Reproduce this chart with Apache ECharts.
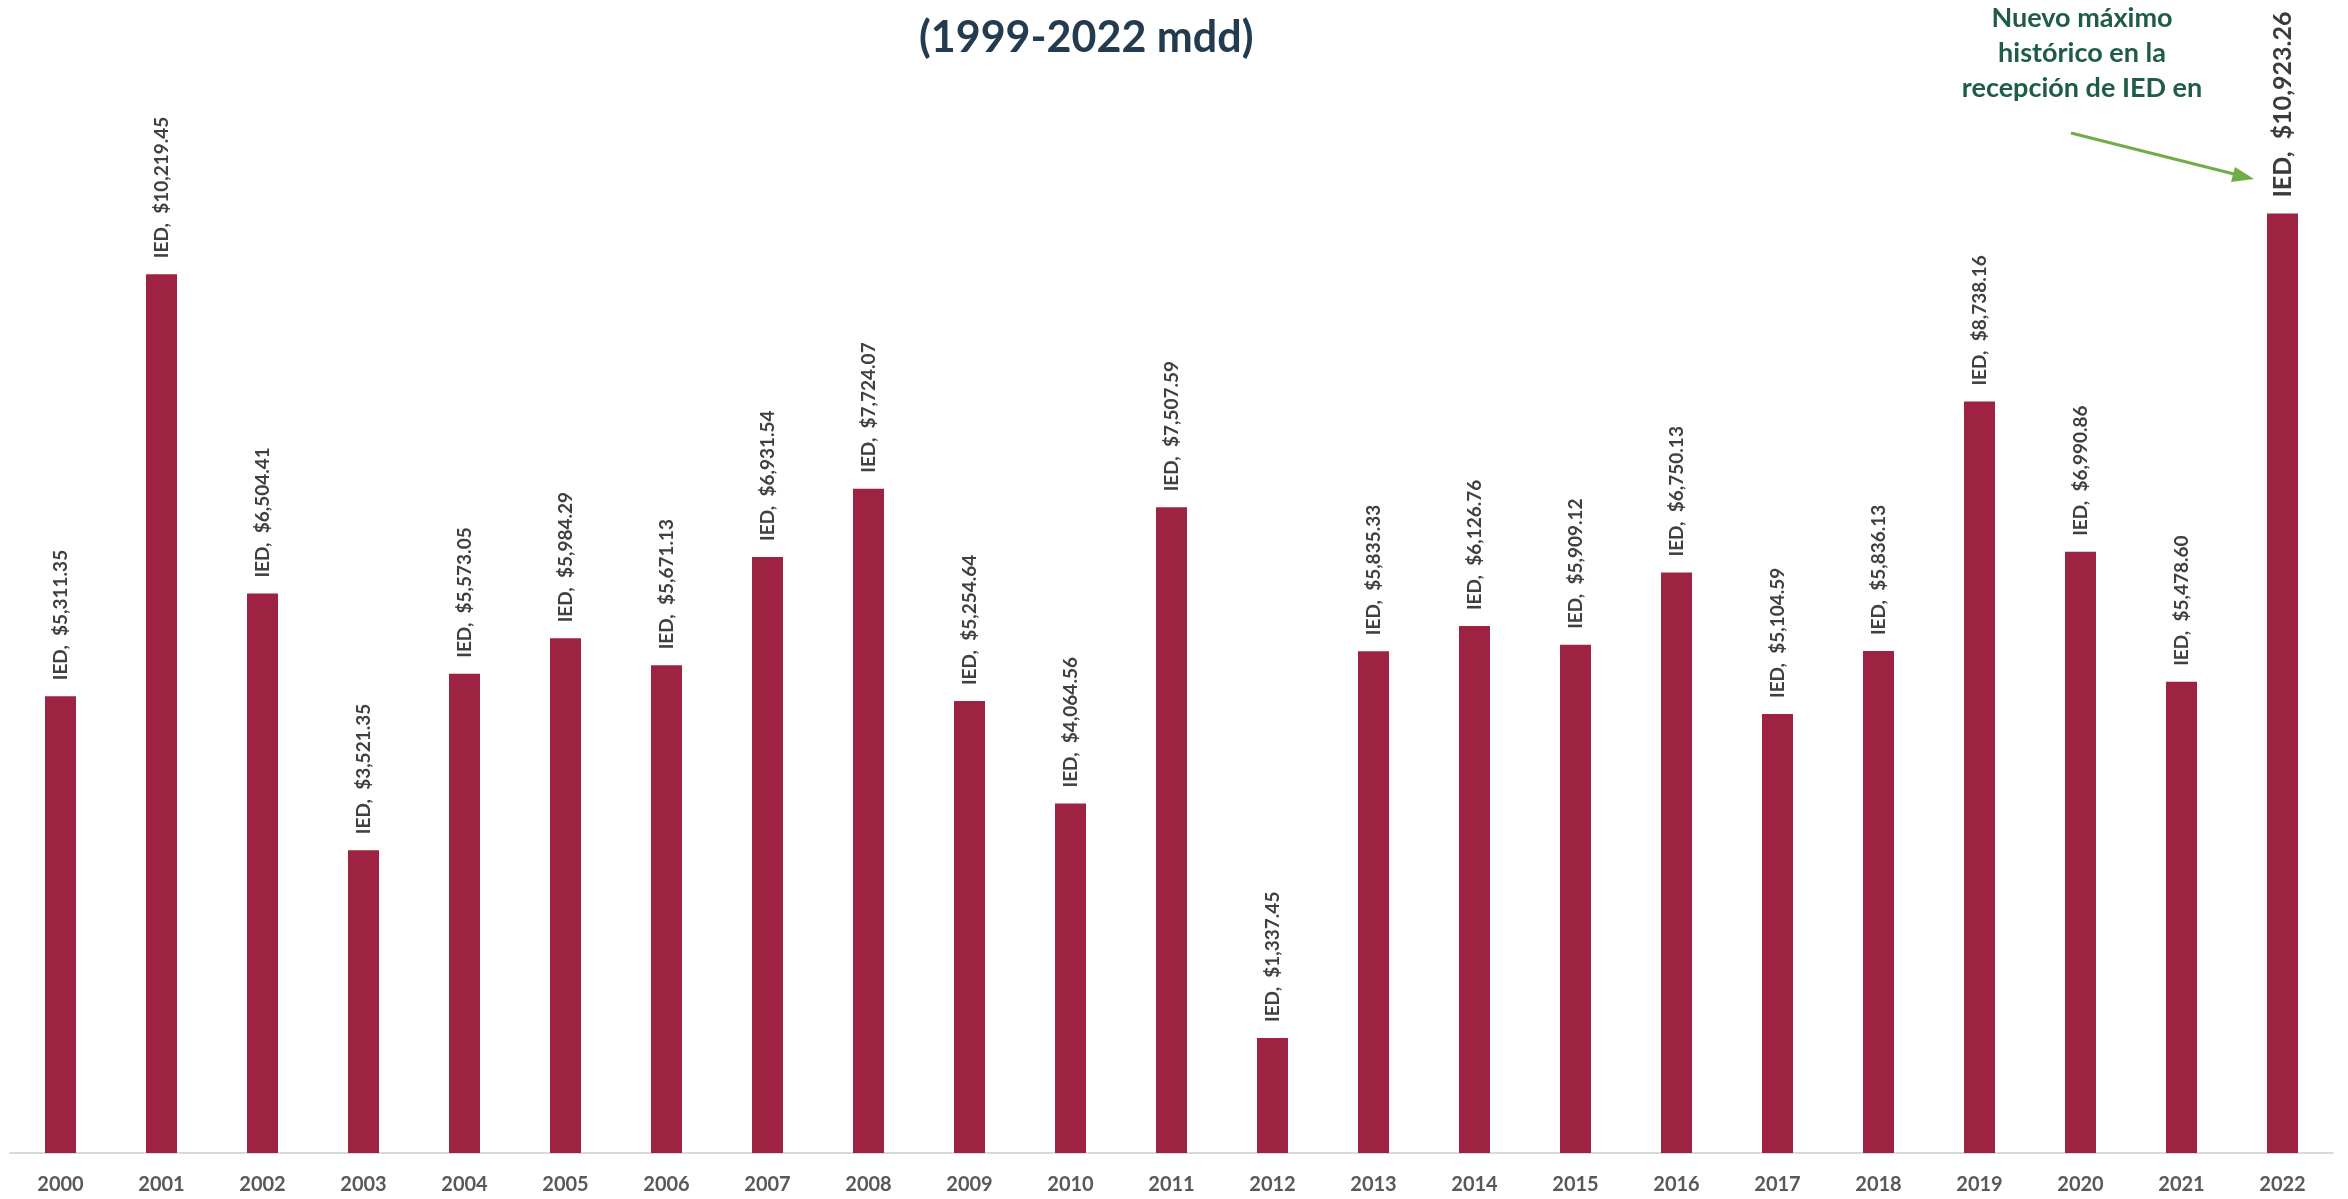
<!DOCTYPE html>
<html>
<head>
<meta charset="utf-8">
<script src="https://cdn.jsdelivr.net/npm/echarts@6/dist/echarts.min.js"></script>
<style>
  html, body { margin: 0; padding: 0; background: #fff; }
  #chart { width: 2348px; height: 1199px; }
</style>
</head>
<body>
<div id="chart"></div>
<script>
// años y monto de IED (mdd)
const years = ['2000', '2001', '2002', '2003', '2004', '2005', '2006', '2007', '2008', '2009', '2010', '2011',
  '2012', '2013', '2014', '2015', '2016', '2017', '2018', '2019', '2020', '2021', '2022']
const ied = [5311.35, 10219.45, 6504.41, 3521.35, 5573.05, 5984.29, 5671.13, 6931.54, 7724.07, 5254.64, 4064.56, 7507.59,
  1337.45, 5835.33, 6126.76, 5909.12, 6750.13, 5104.59, 5836.13, 8738.16, 6990.86, 5478.60, 10923.26]
const seriesName = 'IED'
const titleText = '(1999-2022 mdd)'
const noteLines = ['Nuevo máximo', 'histórico en la', 'recepción de IED en']

const chart = echarts.init(document.getElementById('chart'))

const fmt = v => '$' + v.toLocaleString('en-US', { minimumFractionDigits: 2, maximumFractionDigits: 2 })

const barData = ied.map((v, i) => {
  let item = { value: v }
  if (i === ied.length - 1) {
    // ultimo año con etiqueta mas grande
    item.label = { fontSize: 25, color: '#3b3b3b' }
  }
  return item
})

chart.setOption({
  animation: false,
  title: {
    text: titleText,
    left: 914,
    top: 12,
    textStyle: {
      fontFamily: 'Lato',
      fontWeight: 'bold',
      fontSize: 43,
      color: '#243b4f'
    }
  },
  grid: {
    left: 10,
    right: 15,
    top: 121,
    bottom: 46,
    containLabel: false
  },
  xAxis: {
    type: 'category',
    data: years,
    axisTick: { show: false },
    axisLine: { lineStyle: { color: '#d9d9d9', width: 2 } },
    axisLabel: {
      margin: 22,
      fontFamily: 'Lato',
      fontWeight: 'bold',
      fontSize: 20,
      color: '#595959'
    }
  },
  yAxis: {
    type: 'value',
    min: 0,
    max: 12000,
    show: false,
    splitLine: { show: false }
  },
  series: [{
    name: seriesName,
    type: 'bar',
    data: barData,
    barWidth: 31,
    itemStyle: { color: '#9e2242' },
    label: {
      show: true,
      position: 'top',
      rotate: 90,
      align: 'left',
      verticalAlign: 'middle',
      distance: 16,
      fontFamily: 'Lato',
      fontWeight: 'bold',
      fontSize: 19,
      color: '#404040',
      formatter: p => seriesName + ',  ' + fmt(p.value)
    }
  }],
  graphic: [
    {
      type: 'text',
      x: 2082,
      y: 1,
      style: {
        text: noteLines.join('\n'),
        align: 'center',
        verticalAlign: 'top',
        lineHeight: 35,
        fontFamily: 'Lato',
        fontWeight: 'bold',
        fontSize: 27,
        fill: '#1f5c46'
      }
    },
    {
      type: 'line',
      shape: { x1: 2071, y1: 133, x2: 2238, y2: 175 },
      style: { stroke: '#70ad47', lineWidth: 3 }
    },
    {
      type: 'polygon',
      shape: { points: [[2254, 179], [2235, 167], [2231, 182]] },
      style: { fill: '#70ad47' }
    }
  ]
})
</script>
</body>
</html>
